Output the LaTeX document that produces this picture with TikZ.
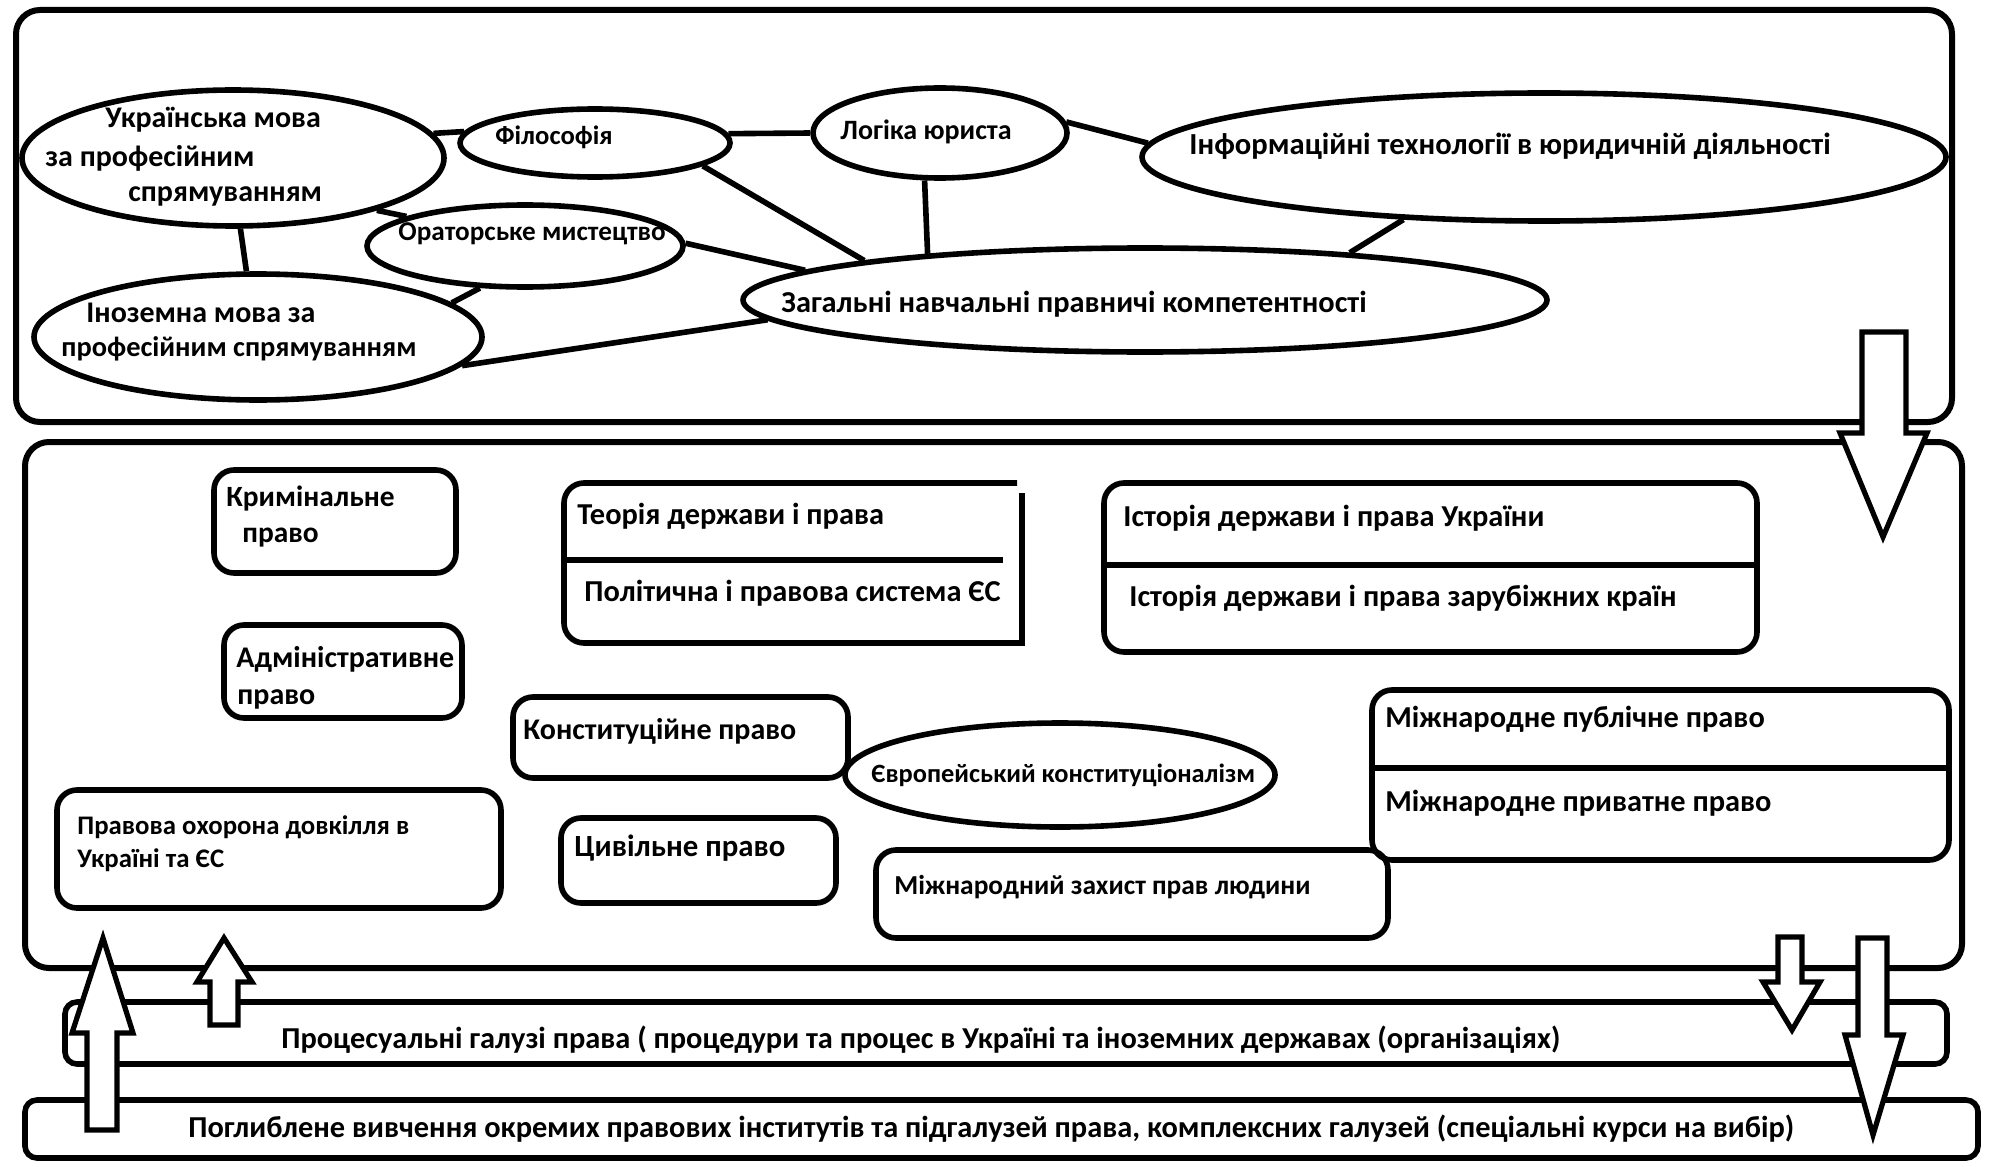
\documentclass[tikz,border=0pt]{standalone}
\usepackage{fontspec}
\setmainfont{Carlito}
\usetikzlibrary{shapes.geometric}
\begin{document}
\begin{tikzpicture}[x=0.5pt,y=-0.5pt]
\tikzset{
 frame/.style={draw, rectangle, line width=3pt, rounded corners=12pt, inner sep=0pt},
 ell/.style={draw, ellipse, line width=2.8pt, inner sep=0pt},
 box/.style={draw, rectangle, rounded corners=10pt, line width=2.8pt, inner sep=0pt},
 band/.style={draw, rectangle, rounded corners=6pt, line width=2.8pt, inner sep=0pt},
 conn/.style={line width=2.8pt},
 blockarrow/.style={draw, fill=white, line width=2.6pt, line join=miter},
 lbl/.style={anchor=mid west, inner sep=0pt, font=\fontsize{#1}{#1}\selectfont\bfseries},
 lbl/.default=15.2,
}
\useasboundingbox[fill=white] (0,0) rectangle (1989,1166);

% frames
\node[frame, minimum width=968pt, minimum height=206pt] (topframe) at (984,216) {};
\node[frame, minimum width=968.5pt, minimum height=263pt] (midframe) at (993.5,705) {};

% ellipses top
\node[ell, minimum width=211pt, minimum height=68pt] (uk) at (233,158) {};
\node[ell, minimum width=135pt, minimum height=34pt] (fil) at (595,143) {};
\node[ell, minimum width=127pt, minimum height=45pt] (log) at (940,133) {};
\node[ell, minimum width=402pt, minimum height=64pt] (it) at (1544,157) {};
\node[ell, minimum width=158pt, minimum height=41pt] (or) at (525,246) {};
\node[ell, minimum width=224pt, minimum height=63pt] (in) at (258,337) {};
\node[ell, minimum width=402pt, minimum height=52pt] (zag) at (1145,300) {};

% connectors top
\draw[conn] (uk.7) -- (fil.175);
\draw[conn] (fil.4.7) -- (log.180);
\draw[conn] (log.5.9) -- (it.178.6);
\draw[conn] (fil.-12.5) -- (zag.172);
\draw[conn] (log.-108) -- (zag.168);
\draw[conn] (it.-156) -- (zag.13);
\draw[conn] (or.1.5) -- (zag.175);
\draw[conn] (uk.-20) -- (or.166);
\draw[conn] (uk.-84) -- (in.100);
\draw[conn] (or.-137) -- (in.10);
\draw[conn] (in.-8) -- (zag.-177);

% texts top
\node[lbl=15] (tuk1) at (105,123) {Українська мова};
\node[lbl=15] (tuk2) at (45,162) {за професійним};
\node[lbl=15] (tuk3) at (128,197) {спрямуванням};
\node[lbl=13.3] (tfil) at (495,140) {Філософія};
\node[lbl=14] (tlog) at (840,135) {Логіка юриста};
\node[lbl=15.3] (tit) at (1189,150) {Інформаційні технології в юридичній діяльності};
\node[lbl=13.6] (tor) at (398,236) {Ораторське мистецтво};
\node[lbl=15.2] (tzag) at (781,308) {Загальні навчальні правничі компетентності};
\node[lbl=15] (tin1) at (86,318) {Іноземна мова за};
\node[lbl=14.2] (tin2) at (61,352) {професійним спрямуванням};

% middle boxes
\node[box, minimum width=121pt, minimum height=51.5pt] (krym) at (335,521.5) {};
\node[box, minimum width=119pt, minimum height=46.5pt] (adm) at (343,671.5) {};
\node[box, minimum width=167.5pt, minimum height=40.5pt] (konst) at (680.5,737.5) {};
\node[box, minimum width=222pt, minimum height=59pt] (ohor) at (279,849) {};
\node[box, minimum width=137.5pt, minimum height=42.5pt] (civ) at (698.5,860.5) {};
\node[box, minimum width=256pt, minimum height=44pt] (mzah) at (1132,894) {};
\node[box, minimum width=326.5pt, minimum height=84.5pt] (ist) at (1430.5,567.5) {};
\node[box, minimum width=288.5pt, minimum height=85pt] (mizh) at (1660.5,775) {};
\node[ell, minimum width=215pt, minimum height=52pt] (eu) at (1060,775) {};

\draw[conn] (ist.west |- 0,565) -- (ist.east |- 0,565);
\draw[conn] (mizh.west |- 0,768) -- (mizh.east |- 0,768);

% theory box (open outline)
\draw[conn, rounded corners=10pt] (1017,483) -- (564,483) -- (564,643) -- (800,643);
\draw[conn] (790,643) -- (1022,643) -- (1022,493);
\draw[conn] (564,560) -- (1003,560);

% middle texts
\node[lbl=14.7] (tk1) at (226,502) {Кримінальне};
\node[lbl=14.7] (tk2) at (242,538) {право};
\node[lbl=15] (ta1) at (236,663) {Адміністративне};
\node[lbl=15] (ta2) at (237,700) {право};
\node[lbl] (tt1) at (577,520) {Теорія держави і права};
\node[lbl] (tt2) at (584,597) {Політична і правова система ЄС};
\node[lbl] (ti1) at (1123,522) {Історія держави і права України};
\node[lbl] (ti2) at (1129,602) {Історія держави і права зарубіжних країн};
\node[lbl=15] (tko) at (523,735) {Конституційне право};
\node[lbl=13.2] (teu) at (871,778) {Європейський конституціоналізм};
\node[lbl] (tm1) at (1385,723) {Міжнародне публічне право};
\node[lbl] (tm2) at (1385,807) {Міжнародне приватне право};
\node[lbl=13.4] (to1) at (77,830) {Правова охорона довкілля в};
\node[lbl=13.4] (to2) at (77,863) {Україні та ЄС};
\node[lbl=15.4] (tci) at (574,852) {Цивільне право};
\node[lbl=13.7] (tmz) at (894,890) {Міжнародний захист прав людини};

% bottom bands
\node[band, minimum width=941pt, minimum height=31pt] (proc) at (1006,1033) {};
\node[band, minimum width=976.5pt, minimum height=29pt] (pogl) at (1001.5,1129) {};
\node[lbl] (tproc) at (281,1044) {Процесуальні галузі права ( процедури та процес в Україні та іноземних державах (організаціях)};
\node[lbl] (tpogl) at (188,1133) {Поглиблене вивчення окремих правових інститутів та підгалузей права, комплексних галузей (спеціальні курси на вибір)};

% block arrows
\draw[blockarrow] (1862,332) -- (1906,332) -- (1906,433) -- (1927,433) -- (1883,537) -- (1840,433) -- (1862,433) -- cycle;
\draw[blockarrow] (1778,937) -- (1802,937) -- (1802,982) -- (1820,982) -- (1792,1030) -- (1763,982) -- (1778,982) -- cycle;
\draw[blockarrow] (1858,938) -- (1887,938) -- (1887,1035) -- (1903,1035) -- (1873,1135) -- (1845,1035) -- (1858,1035) -- cycle;
\draw[blockarrow] (87,1130) -- (117,1130) -- (117,1033) -- (133,1033) -- (103,938) -- (72,1033) -- (87,1033) -- cycle;
\draw[blockarrow] (210,1025) -- (238,1025) -- (238,982) -- (252,982) -- (224,938) -- (197,982) -- (210,982) -- cycle;
\end{tikzpicture}
\end{document}
